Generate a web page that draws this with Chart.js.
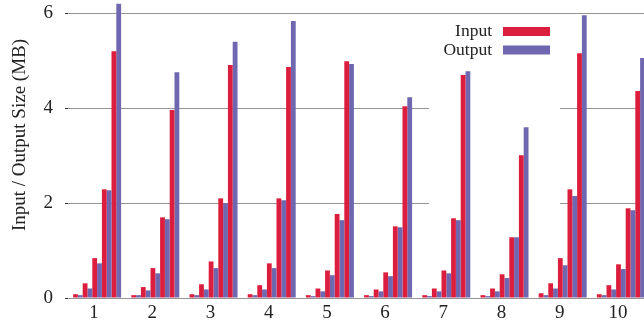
<!DOCTYPE html>
<html>
<head>
<meta charset="utf-8">
<script src="https://cdn.jsdelivr.net/npm/chart.js@4/dist/chart.umd.min.js"></script>
<style>
  html, body { margin: 0; padding: 0; background: #fff; overflow: hidden; }
  #wrap { position: relative; width: 650px; height: 322px; }
</style>
</head>
<body>
<div id="wrap"><canvas id="c"></canvas></div>
<script>
// ---- data ----
const groups = ['1', '2', '3', '4', '5', '6', '7', '8', '9', '10'];
const yTicks = [0, 2, 4, 6];
const seriesNames = ['Input', 'Output'];

// five size classes per group (MB)
const input1  = [0.08, 0.06, 0.08, 0.08, 0.06, 0.06, 0.06, 0.06, 0.10, 0.08];
const input2  = [0.31, 0.23, 0.29, 0.27, 0.20, 0.18, 0.20, 0.20, 0.31, 0.27];
const input3  = [0.84, 0.63, 0.77, 0.73, 0.58, 0.54, 0.58, 0.50, 0.84, 0.71];
const input4  = [2.29, 1.70, 2.10, 2.10, 1.77, 1.51, 1.68, 1.28, 2.29, 1.89];
const input5  = [5.20, 3.96, 4.91, 4.87, 4.99, 4.04, 4.70, 3.01, 5.16, 4.36];
const output1 = [0.06, 0.06, 0.06, 0.06, 0.04, 0.04, 0.04, 0.04, 0.06, 0.06];
const output2 = [0.20, 0.16, 0.18, 0.18, 0.14, 0.14, 0.14, 0.14, 0.20, 0.18];
const output3 = [0.73, 0.52, 0.63, 0.63, 0.48, 0.46, 0.52, 0.42, 0.69, 0.61];
const output4 = [2.27, 1.66, 2.00, 2.06, 1.64, 1.49, 1.64, 1.28, 2.15, 1.85];
const output5 = [6.20, 4.76, 5.40, 5.84, 4.93, 4.23, 4.78, 3.60, 5.96, 5.06];

const inputs = [input1, input2, input3, input4, input5];
const outputs = [output1, output2, output3, output4, output5];

// ---- styling ----
const RED = '#DC1E3E';
const PURPLE = '#6F67AF';
const FONT = "'Liberation Serif', 'Times New Roman', serif";
const TEXT = '#222';

const datasets = [];
for (let i = 0; i < inputs.length; i++) {
  datasets.push({ label: seriesNames[0], data: inputs[i], backgroundColor: RED, showInLegend: i === 0 });
  datasets.push({ label: seriesNames[1], data: outputs[i], backgroundColor: PURPLE, showInLegend: i === 0 });
}

const keyPlugin = {
  id: 'key',
  beforeDatasetsDraw(chart) {
    // white key area hides grid segments (as in the original)
    const ca = chart.chartArea;
    const ctx = chart.ctx;
    const swRight = ca.right - 100;
    ctx.save();
    ctx.fillStyle = '#fff';
    ctx.fillRect(swRight - 121, ca.top + 25, 131, ca.bottom - ca.top - 45);
    ctx.restore();
  },
  afterDatasetsDraw(chart) {
    const ca = chart.chartArea;
    const ctx = chart.ctx;
    const swRight = ca.right - 100;
    const swW = 47, swH = 9;
    const textRight = swRight - swW - 11;
    const entries = chart.data.datasets.filter(d => d.showInLegend);
    ctx.save();
    ctx.font = '17.5px ' + FONT;
    ctx.textAlign = 'right';
    ctx.textBaseline = 'middle';
    entries.forEach((d, k) => {
      const cy = ca.top + 31.5 + k * 18.5;
      ctx.fillStyle = TEXT;
      ctx.fillText(d.label, textRight, cy);
      ctx.fillStyle = d.backgroundColor;
      ctx.fillRect(swRight - swW, cy - swH / 2, swW, swH);
    });
    ctx.restore();
  },
  afterDraw(chart) {
    const ca = chart.chartArea;
    const ctx = chart.ctx;
    ctx.save();
    ctx.font = '19px ' + FONT;
    ctx.fillStyle = TEXT;
    ctx.textAlign = 'center';
    ctx.textBaseline = 'middle';
    ctx.translate(20, (ca.top + ca.bottom) / 2 - 14);
    ctx.rotate(-Math.PI / 2);
    ctx.fillText('Input / Output Size (MB)', 0, 0);
    ctx.restore();
  }
};

new Chart(document.getElementById('c'), {
  type: 'bar',
  data: { labels: groups, datasets },
  options: {
    responsive: true,
    maintainAspectRatio: false,
    animation: false,
    layout: { padding: { left: 0, right: 0, top: 0, bottom: 0 } },
    datasets: {
      bar: { categoryPercentage: 0.825, barPercentage: 1.0, borderWidth: 0 }
    },
    plugins: {
      legend: { display: false },
      tooltip: { enabled: false }
    },
    scales: {
      x: {
        grid: { display: false, drawTicks: false },
        border: { display: false },
        ticks: {
          font: { family: FONT, size: 19 },
          color: TEXT,
          padding: 4,
          labelOffset: -3,
          maxRotation: 0,
          autoSkip: false
        },
        afterFit(scale) {
          scale.height = 24;
          scale.paddingLeft = 0;
          scale.paddingRight = 0;
        }
      },
      y: {
        min: 0,
        max: 6.28,
        border: { display: false },
        grid: {
          color: '#959595',
          lineWidth: 1,
          borderDash: [2, 1],
          drawTicks: true,
          tickLength: 3,
          tickColor: '#333',
          tickBorderDash: []
        },
        ticks: {
          font: { family: FONT, size: 19 },
          color: TEXT,
          padding: 12,
          includeBounds: false
        },
        afterBuildTicks(scale) { scale.ticks = yTicks.map(v => ({ value: v })); },
        afterFit(scale) {
          scale.width = 68;
          scale.paddingTop = 0;
          scale.paddingBottom = 0;
        }
      }
    }
  },
  plugins: [keyPlugin]
});
</script>
</body>
</html>
